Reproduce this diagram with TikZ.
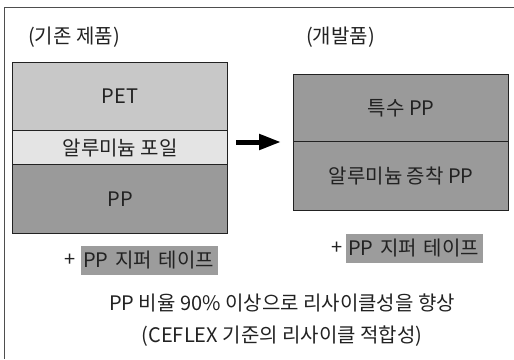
\documentclass[tikz,border=0pt]{standalone}
\usepackage{fontspec}
\setmainfont{Noto Sans CJK KR}
\usetikzlibrary{arrows.meta}
\definecolor{txt}{HTML}{222222}
\definecolor{petfill}{HTML}{C8C8C8}
\definecolor{foilfill}{HTML}{E4E4E4}
\definecolor{ppfill}{HTML}{9A9A9A}
\definecolor{hl}{HTML}{9C9C9C}
\tikzset{
  layer/.style={draw=txt, line width=1.3pt, inner sep=0pt, text=txt, font=\fontsize{20}{24}\selectfont},
  lbl/.style={inner sep=0pt, text=txt, font=\fontsize{20}{24}\selectfont},
  hlbox/.style={fill=hl, text=txt, inner xsep=2pt, inner ysep=0pt, text width=133pt, align=left, minimum height=29pt, font=\fontsize{20}{24}\selectfont},
}
\begin{document}
\begin{tikzpicture}[x=1pt,y=-1pt]
\useasboundingbox (0,0) rectangle (514,359);
% frame
\draw[line width=1.5pt, draw=txt!80] (514,7.5) -- (4.5,7.5) -- (4.5,359);
% titles
\node[lbl, anchor=west] (t1) at (28,37) {(기존 제품)};
\node[lbl, anchor=west] (t2) at (306,37) {(개발품)};
% left stack
\node[layer, fill=petfill, minimum width=215pt, minimum height=68pt, anchor=north west] (pet) at (12,62) {PET};
\node[layer, fill=foilfill, minimum width=215pt, minimum height=34pt, anchor=north west] (foil) at (12,130) {알루미늄 포일};
\node[layer, fill=ppfill, minimum width=215pt, minimum height=69pt, anchor=north west] (pp) at (12,164) {PP};
% right stack
\node[layer, fill=ppfill, minimum width=215pt, minimum height=67pt, anchor=north west] (spp) at (293,74) {특수 PP};
\node[layer, fill=ppfill, minimum width=215pt, minimum height=69pt, anchor=north west] (app) at (293,141) {알루미늄 증착 PP};
% arrow
\coordinate (a1) at (236,142);
\coordinate (a2) at (281,142);
\draw[line width=5pt, draw=black, -{Triangle[length=22pt,width=15pt]}] (a1) -- (a2);
% zipper tape
\node[lbl] (plus1) at (70,260) {+};
\node[hlbox, anchor=west] (z1) at (81,260.5) {PP 지퍼 테이프};
\node[lbl] (plus2) at (337,248) {+};
\node[hlbox, anchor=west] (z2) at (346,248.5) {PP 지퍼 테이프};
% bottom text
\node[lbl] (b1) at (282,303) {PP 비율 90\% 이상으로 리사이클성을 향상};
\node[lbl] (b2) at (282,336) {(CEFLEX 기준의 리사이클 적합성)};
\end{tikzpicture}
\end{document}
